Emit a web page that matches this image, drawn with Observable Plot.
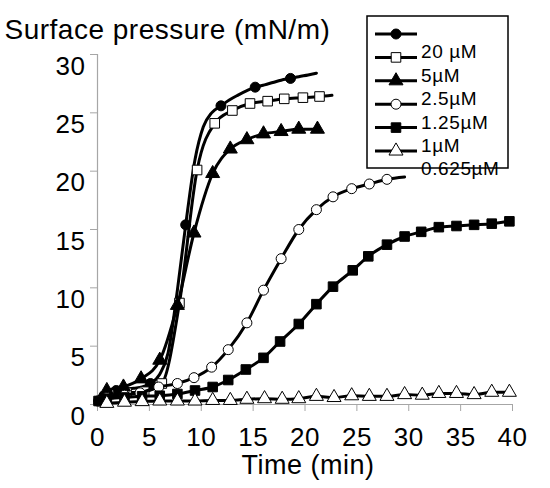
<!DOCTYPE html>
<html>
<head>
<meta charset="utf-8">
<script src="https://cdn.jsdelivr.net/npm/d3@7"></script>
<script src="https://cdn.jsdelivr.net/npm/@observablehq/plot@0.6"></script>
<style>
  body { margin: 0; background: white; }
</style>
</head>
<body>
<div id="chart"></div>
<script>
// ticks
var xTicks = [0, 5, 10, 15, 20, 25, 30, 35, 40];
var yTicks = [0, 5, 10, 15, 20, 25, 30];

// legend labels, as printed (first sample has no label)
var legendLabels = ['20 µM', '5µM', '2.5µM', '1.25µM', '1µM', '0.625µM'];

// series: time (min) and surface pressure (mN/m)
var circT = [0.1, 0.9, 1.8, 2.6, 3.5, 4.3, 5.1, 6.0, 6.8, 7.7, 8.5, 9.4, 10.2, 11.0, 11.9, 12.7, 13.5, 14.4, 15.2, 16.1, 16.9, 17.7, 18.6, 19.4, 20.3, 21.1];
var circY = [0.3, 1.0, 1.2, 1.3, 1.4, 1.5, 1.8, 2.6, 4.4, 9.8, 15.4, 21.0, 23.8, 25.0, 25.6, 26.1, 26.5, 26.9, 27.2, 27.4, 27.6, 27.8, 27.95, 28.1, 28.25, 28.4];

var sqOpenT = [0.3, 1.1, 2.8, 4.5, 6.2, 7.9, 9.6, 11.3, 13.0, 14.7, 16.4, 18.0, 19.8, 21.4, 22.6];
var sqOpenY = [0.3, 0.9, 1.0, 1.1, 1.8, 8.7, 20.1, 24.1, 25.2, 25.8, 26.0, 26.2, 26.3, 26.4, 26.5];

var triT = [0.3, 0.9, 2.5, 4.2, 6.0, 7.7, 9.3, 11.1, 12.8, 14.4, 16.0, 17.7, 19.4, 21.2];
var triY = [0.4, 1.2, 1.5, 2.2, 3.8, 8.5, 14.7, 19.8, 21.9, 22.7, 23.2, 23.4, 23.6, 23.6];

var circOpenT = [0.1, 0.9, 2.6, 4.1, 5.9, 7.7, 9.3, 11.0, 12.6, 14.4, 16.0, 17.7, 19.4, 21.1, 22.7, 24.5, 26.2, 27.9, 29.6];
var circOpenY = [0.3, 0.6, 0.8, 1.0, 1.5, 1.8, 2.3, 3.2, 4.7, 7.0, 9.8, 12.5, 15.0, 16.7, 17.8, 18.5, 18.9, 19.3, 19.5];

var sqT = [0.1, 0.9, 2.6, 4.3, 6.0, 7.7, 9.4, 11.1, 12.6, 14.3, 16.0, 17.6, 19.4, 21.1, 22.7, 24.6, 26.1, 27.9, 29.6, 31.2, 32.9, 34.6, 36.3, 38.0, 39.7];
var sqY = [0.3, 0.5, 0.6, 0.7, 0.75, 0.9, 1.2, 1.5, 2.1, 3.0, 4.0, 5.4, 6.9, 8.6, 10.1, 11.5, 12.7, 13.7, 14.4, 14.8, 15.2, 15.3, 15.4, 15.5, 15.7];

var triOpenT = [0.9, 2.6, 4.3, 6.0, 7.7, 9.4, 11.1, 12.8, 14.4, 16.1, 17.8, 19.4, 21.1, 22.8, 24.5, 26.2, 27.9, 29.6, 31.3, 32.9, 34.6, 36.3, 38.0, 39.7];
var triOpenY = [0.1, 0.2, 0.25, 0.3, 0.3, 0.3, 0.35, 0.35, 0.45, 0.5, 0.45, 0.5, 0.7, 0.6, 0.75, 0.7, 0.7, 0.85, 0.8, 0.95, 0.95, 0.85, 1.05, 1.05];

function pts(ts, ys) {
  return ts.map((t, i) => ({t: t, p: ys[i], i: i}));
}

// marker styles, in draw order
var series = [
  {data: pts(circT, circY), symbol: 'circle', fill: 'black', r: 5, keep: d => d.i % 4 === 2},
  {data: pts(sqOpenT, sqOpenY), symbol: 'square', fill: 'white', r: 5.4, keep: d => d.i < sqOpenT.length - 1},
  {data: pts(triT, triY), symbol: 'triangle', fill: 'black', r: 5.2, keep: d => true},
  {data: pts(circOpenT, circOpenY), symbol: 'circle', fill: 'white', r: 5, keep: d => d.i < circOpenT.length - 1},
  {data: pts(sqT, sqY), symbol: 'square', fill: 'black', r: 5.4, keep: d => true},
  {data: pts(triOpenT, triOpenY), symbol: 'triangle', fill: 'white', r: 5.2, keep: d => true},
];

var gray = '#a6a6a6';
var font = "'Liberation Sans', Arial, sans-serif";

var marks = [
  Plot.ruleX([0], {stroke: gray, strokeWidth: 1.2}),
  Plot.ruleY([0], {stroke: gray, strokeWidth: 1.2}),
  Plot.axisY({ticks: yTicks, tickSize: 7, tickFormat: () => '', stroke: gray, label: null}),
  Plot.axisY({ticks: yTicks, tickSize: 0, tickPadding: 12, dy: 12, fill: 'black', fontSize: 26, label: null}),
  Plot.axisX({ticks: xTicks, tickSize: 7, tickPadding: 16, stroke: gray, fill: 'black', fontSize: 26, label: null}),
];

series.forEach(s => {
  marks.push(Plot.line(s.data, {x: 't', y: 'p', stroke: 'black', strokeWidth: 3, curve: 'monotone-x'}));
  marks.push(Plot.dot(s.data.filter(s.keep), {x: 't', y: 'p', symbol: () => s.symbol, r: s.r, fill: s.fill, stroke: 'black', strokeWidth: 1}));
});

marks.push(Plot.text(['Surface pressure (mN/m)'], {text: d => d, frameAnchor: 'top-left', textAnchor: 'start', dx: -93, dy: -35, fontSize: 28}));
marks.push(Plot.text(['Time (min)'], {text: d => d, frameAnchor: 'bottom', dx: 3, dy: 69, fontSize: 27}));

var chart = Plot.plot({
  width: 550,
  height: 488,
  marginTop: 54,
  marginLeft: 97,
  marginRight: 38,
  marginBottom: 84,
  x: {domain: [0, 40]},
  y: {domain: [0, 30]},
  symbol: {type: 'identity'},
  style: {fontFamily: font, fontSize: '26px', background: 'white', color: 'black', letterSpacing: '0.5px'},
  marks: marks
});

d3.select('#chart').append(() => chart);

// legend box drawn on top of the svg
var lg = d3.select(chart).append('g');
lg.append('rect')
  .attr('x', 367).attr('y', 16).attr('width', 141).attr('height', 152)
  .attr('fill', 'white').attr('stroke', 'black').attr('stroke-width', 1.5);

var symbolTypes = {circle: d3.symbolCircle, square: d3.symbolSquare, triangle: d3.symbolTriangle};
series.forEach((s, i) => {
  var yy = 34 + 23.4 * i;
  lg.append('line').attr('x1', 375).attr('x2', 417).attr('y1', yy).attr('y2', yy)
    .attr('stroke', 'black').attr('stroke-width', 3);
  lg.append('path')
    .attr('d', d3.symbol(symbolTypes[s.symbol], Math.PI * s.r * s.r)())
    .attr('transform', `translate(396,${yy})`)
    .attr('fill', s.fill).attr('stroke', 'black').attr('stroke-width', 1);
});
legendLabels.forEach((lab, i) => {
  lg.append('text')
    .attr('x', 421).attr('y', 34 + 23.4 * (i + 1) + 1)
    .attr('text-anchor', 'start')
    .attr('font-size', 19).attr('font-family', font)
    .attr('letter-spacing', '0.6px')
    .attr('fill', 'black')
    .text(lab);
});
</script>
</body>
</html>
